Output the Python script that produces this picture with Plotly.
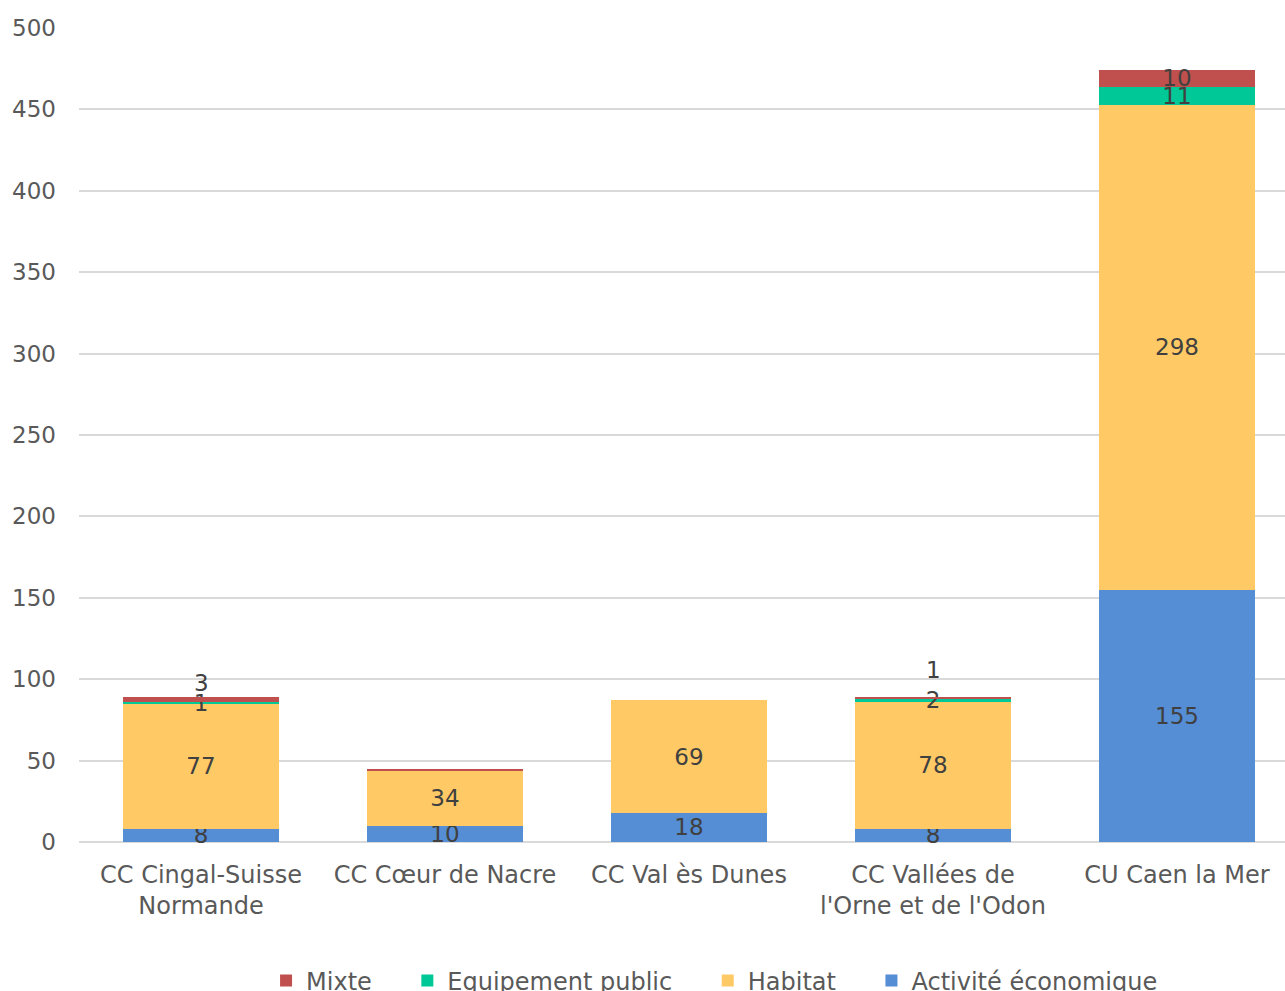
import plotly.graph_objects as go

categories = ["CC Cingal-Suisse<br>Normande", "CC Cœur de Nacre", "CC Val ès Dunes",
              "CC Vallées de<br>l'Orne et de l'Odon", "CU Caen la Mer"]
activite = [8, 10, 18, 8, 155]
habitat = [77, 34, 69, 78, 298]
equipement = [1, 0, 0, 2, 11]
mixte = [3, 0.3, 0, 1, 10]

eq_text = ["1", "", "", "2", "11"]
mixte_text = ["3", "", "", "1", "10"]

font_fam = "DejaVu Sans"
fs = 23
label_col = "#404040"
NB = "\u00a0"

fig = go.Figure()

def add(name, vals, color, text):
    fig.add_trace(go.Bar(
        x=categories, y=vals, name=name, marker=dict(color=color, line=dict(width=0)),
        text=text, textposition="inside", insidetextanchor="middle",
        textangle=0, constraintext="none",
        textfont=dict(family=font_fam, size=fs, color=label_col),
        cliponaxis=False,
    ))

add("Activité économique", activite, "#558ED5", [str(v) for v in activite])
add("Habitat" + NB * 4, habitat, "#FFCA65", [str(v) for v in habitat])
add("Equipement public" + NB * 4, equipement, "#00C896", eq_text)
mixte_inside = [t if i == 4 else "" for i, t in enumerate(mixte_text)]
add("Mixte" + NB * 4, mixte, "#C0504D", mixte_inside)

totals = [a + h + e + m for a, h, e, m in zip(activite, habitat, equipement, mixte)]
shifts = {0: -1, 3: 12}
for i, sh in shifts.items():
    fig.add_annotation(x=categories[i], y=totals[i], text=mixte_text[i], showarrow=False,
                       yanchor="bottom", yshift=sh,
                       font=dict(family=font_fam, size=fs, color=label_col))

fig.update_layout(
    barmode="stack",
    bargap=0.357,
    width=1285, height=991,
    margin=dict(l=79, r=0, t=28, b=149, autoexpand=False),
    plot_bgcolor="white", paper_bgcolor="white",
    font=dict(family=font_fam, size=fs, color="#595959"),
    legend=dict(orientation="h", traceorder="reversed", x=0.527, xanchor="center",
                y=-0.143, yanchor="top", font=dict(family=font_fam, size=24, color="#595959"),
                itemwidth=30),
    showlegend=True,
)
fig.update_xaxes(range=[-0.5, 4.4426], showgrid=False, showline=False, ticks="",
                 ticklabelstandoff=16,
                 tickfont=dict(family=font_fam, size=24, color="#595959"))
fig.update_yaxes(range=[0, 500], dtick=50, showgrid=True, gridcolor="#D9D9D9", gridwidth=2,
                 zeroline=True, zerolinecolor="#D9D9D9", zerolinewidth=2,
                 showline=False, ticks="", ticklabelstandoff=22,
                 tickfont=dict(family=font_fam, size=fs, color="#595959"))

fig.write_html("out.html")
